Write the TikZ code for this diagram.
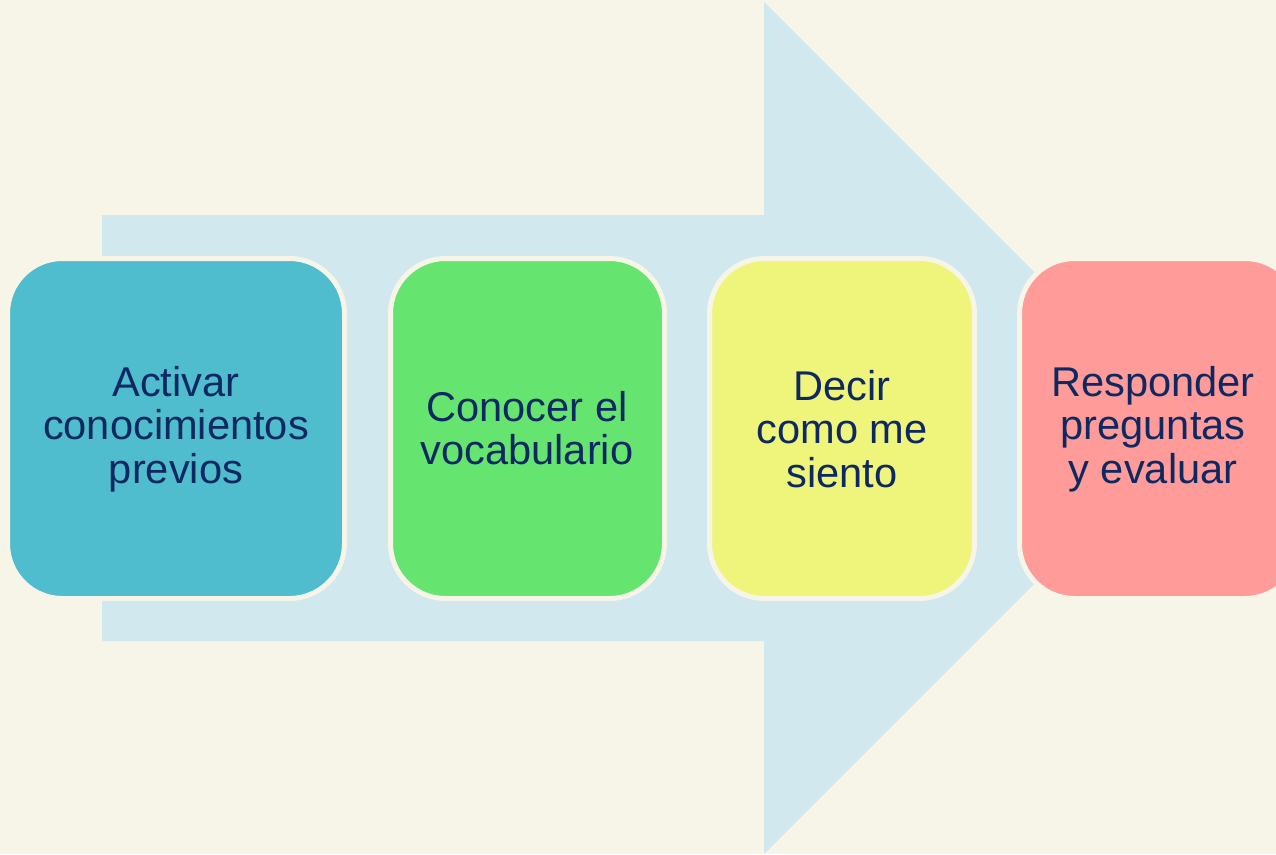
\documentclass[tikz,border=0pt]{standalone}
\usepackage{fontspec}
\setmainfont{Liberation Sans}
\definecolor{bgc}{HTML}{F7F5E7}
\definecolor{arrowc}{HTML}{D1E8EE}
\definecolor{boxa}{HTML}{50BDCE}
\definecolor{boxb}{HTML}{65E570}
\definecolor{boxc}{HTML}{EEF57A}
\definecolor{boxd}{HTML}{FF9C99}
\definecolor{txtc}{HTML}{0E2861}
\tikzset{
  stepbox/.style={draw=bgc, line width=5pt, rounded corners=55pt},
  steptext/.style={text=txtc, align=center, inner sep=0pt,
    font=\fontsize{41.6}{43.5}\selectfont}
}
\begin{document}
\begin{tikzpicture}[x=1pt,y=-1pt]
\useasboundingbox (0,0) rectangle (1276,854);
\fill[bgc] (0,0) rectangle (1276,854);
\clip (0,0) rectangle (1276,854);
% big arrow
\fill[arrowc] (102,215) -- (764,215) -- (764,2) -- (1190,428) -- (764,854) -- (764,641) -- (102,641) -- cycle;
% boxes
\path[stepbox, fill=boxa] (7.5,258.5) rectangle (344.5,598.5);
\path[stepbox, fill=boxb] (390.5,258.5) rectangle (664.5,598.5);
\path[stepbox, fill=boxc] (709.5,258.5) rectangle (974.5,598.5);
\path[stepbox, fill=boxd] (1019.5,258.5) rectangle (1300,598.5);
% texts
\node[steptext] (t1) at (176,429) {Activar\\conocimientos\\previos};
\node[steptext] (t2) at (527,428) {Conocer el\\vocabulario};
\node[steptext] (t3) at (842,429) {Decir\\como me\\siento};
\node[steptext] (t4) at (1153,429) {Responder\\preguntas\\y evaluar};
\end{tikzpicture}
\end{document}
